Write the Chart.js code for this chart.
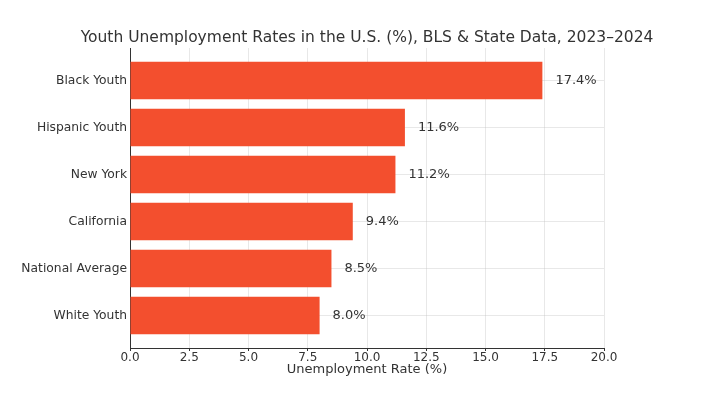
<!DOCTYPE html>
<html>
<head>
<meta charset="utf-8">
<script src="https://cdn.jsdelivr.net/npm/chart.js@4/dist/chart.umd.min.js"></script>
<style>
html,body{margin:0;padding:0;background:#fff;}
#wrap{width:726px;height:398px;}
</style>
</head>
<body>
<div id="wrap"><canvas id="c" width="726" height="398"></canvas></div>
<script>
const categories = ["Black Youth", "Hispanic Youth", "New York", "California", "National Average", "White Youth"];
const rates = [17.4, 11.6, 11.2, 9.4, 8.5, 8.0];
const xTicks = [0, 2.5, 5, 7.5, 10, 12.5, 15, 17.5, 20];
const titleText = "Youth Unemployment Rates in the U.S. (%), BLS & State Data, 2023\u20132024";
const xTitle = "Unemployment Rate (%)";

const FONT = "'DejaVu Sans', sans-serif";
const TXT = '#333333';

const valueLabels = {
  id: 'valueLabels',
  afterDatasetsDraw(chart) {
    const ctx = chart.ctx;
    const xs = chart.scales.x, ys = chart.scales.y;
    ctx.save();
    ctx.font = "13px " + FONT;
    ctx.fillStyle = TXT;
    ctx.textAlign = 'left';
    ctx.textBaseline = 'middle';
    rates.forEach((v, i) => {
      ctx.fillText(v.toFixed(1) + '%', xs.getPixelForValue(v) + 13, ys.getPixelForValue(i));
    });
    ctx.restore();
  }
};

const chartTitle = {
  id: 'chartTitle',
  afterDraw(chart) {
    const ctx = chart.ctx;
    ctx.save();
    ctx.font = "15.5px " + FONT;
    ctx.fillStyle = TXT;
    ctx.textAlign = 'center';
    ctx.textBaseline = 'middle';
    ctx.fillText(titleText, 367, 38);
    ctx.restore();
  }
};

new Chart(document.getElementById('c'), {
  type: 'bar',
  data: {
    datasets: [{
      data: rates.map((v, i) => ({ x: v, y: i })),
      backgroundColor: '#f34f2e',
      borderWidth: 0,
      barPercentage: 1.0,
      categoryPercentage: 0.8
    }]
  },
  options: {
    indexAxis: 'y',
    responsive: false,
    animation: false,
    layout: { padding: { left: 0, right: 122, top: 48, bottom: 0 } },
    plugins: {
      legend: { display: false },
      tooltip: { enabled: false },
      title: { display: false }
    },
    scales: {
      x: {
        type: 'linear',
        position: 'bottom',
        min: 0, max: 20,
        z: 1,
        afterBuildTicks(scale) { scale.ticks = xTicks.map(v => ({ value: v })); },
        afterFit(scale) { scale.height = 50; },
        ticks: {
          color: TXT,
          font: { family: FONT, size: 12 },
          padding: 0,
          maxRotation: 0,
          callback: v => Number(v).toFixed(1)
        },
        grid: { color: 'rgba(190,190,190,0.35)', tickColor: TXT, tickLength: 3, drawTicks: true },
        border: { display: true, color: TXT, width: 1 },
        title: {
          display: true, text: xTitle, color: TXT,
          font: { family: FONT, size: 13 },
          padding: { top: 0, bottom: 21 }
        }
      },
      y: {
        type: 'linear',
        position: 'left',
        reverse: true,
        offset: false,
        min: -0.69, max: 5.69,
        z: 1,
        afterBuildTicks(scale) { scale.ticks = categories.map((c, i) => ({ value: i })); },
        afterFit(scale) { scale.width = 130; },
        ticks: {
          color: TXT,
          font: { family: FONT, size: 12.3 },
          padding: 3,
          callback: v => categories[v]
        },
        grid: { offset: false, color: 'rgba(190,190,190,0.35)', drawTicks: false },
        border: { display: true, color: TXT, width: 1 }
      }
    }
  },
  plugins: [valueLabels, chartTitle]
});
</script>
</body>
</html>
